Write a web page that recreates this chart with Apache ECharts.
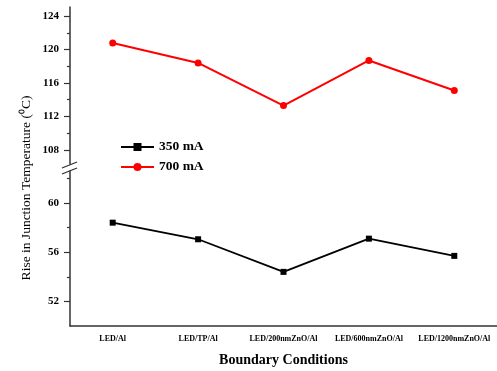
<!DOCTYPE html>
<html>
<head>
<meta charset="utf-8">
<script src="https://cdn.jsdelivr.net/npm/echarts@6/dist/echarts.min.js"></script>
<style>
  html, body { margin: 0; padding: 0; background: #fff; }
  #chart { width: 497px; height: 371px; }
</style>
</head>
<body>
<div id="chart"></div>
<script>
const categories = ['LED/Al', 'LED/TP/Al', 'LED/200nmZnO/Al', 'LED/600nmZnO/Al', 'LED/1200nmZnO/Al']
const temp700 = [120.8, 118.4, 113.3, 118.7, 115.1]
const temp350 = [58.4, 57.05, 54.4, 57.1, 55.7]
const upperLabels = [108, 112, 116, 120, 124]
const upperMinor = [110, 114, 118, 122]
const lowerLabels = [52, 56, 60]
const lowerMinor = [54, 58, 62]

const font = 'Liberation Serif'
const axisColor = '#333'

const chart = echarts.init(document.getElementById('chart'))

const majorAxis = (grid, min, max, labels) => ({
  type: 'value',
  gridIndex: grid,
  position: 'left',
  min: min,
  max: max,
  splitLine: { show: false },
  axisLine: { show: true, lineStyle: { color: axisColor, width: 1.5 } },
  axisTick: { show: true, length: 6, customValues: labels, lineStyle: { color: axisColor, width: 1.2 } },
  axisLabel: {
    customValues: labels,
    margin: 11,
    fontFamily: font,
    fontSize: 11,
    fontWeight: 'bold',
    color: '#000'
  }
})

// second axis on the same side, only for the short minor ticks
const minorAxis = (grid, min, max, ticks) => ({
  type: 'value',
  gridIndex: grid,
  position: 'left',
  offset: 0,
  min: min,
  max: max,
  splitLine: { show: false },
  axisLine: { show: false },
  axisTick: { show: true, length: 3, customValues: ticks, lineStyle: { color: axisColor, width: 1.2 } },
  axisLabel: { show: false }
})

chart.setOption({
  animation: false,
  grid: [
    { left: 70, width: 427, top: 7, height: 157 },
    { left: 70, width: 427, top: 171, height: 155 }
  ],
  legend: {
    orient: 'vertical',
    left: 120,
    top: 140,
    padding: 0,
    itemWidth: 33,
    itemHeight: 10,
    itemGap: 6,
    textStyle: { fontFamily: font, fontSize: 13.5, fontWeight: 'bold', color: '#000', lineHeight: 13 },
    data: ['350 mA', '700 mA']
  },
  xAxis: [
    {
      type: 'category',
      gridIndex: 0,
      data: categories,
      show: false
    },
    {
      type: 'category',
      gridIndex: 1,
      data: categories,
      axisLine: { lineStyle: { color: axisColor, width: 1.5 } },
      axisTick: { alignWithLabel: true, length: 5, lineStyle: { color: axisColor, width: 1.2 } },
      axisLabel: { fontFamily: font, fontSize: 8, fontWeight: 'bold', color: '#000', margin: 9, interval: 0 },
      name: 'Boundary Conditions',
      nameLocation: 'middle',
      nameGap: 27,
      nameTextStyle: { fontFamily: font, fontSize: 14, fontWeight: 'bold', color: '#000' }
    }
  ],
  yAxis: [
    majorAxis(0, 106.3, 125.1, upperLabels),
    majorAxis(1, 50, 62.6, lowerLabels),
    minorAxis(0, 106.3, 125.1, upperMinor),
    minorAxis(1, 50, 62.6, lowerMinor)
  ],
  series: [
    {
      name: '350 mA',
      type: 'line',
      xAxisIndex: 1,
      yAxisIndex: 1,
      data: temp350,
      symbol: 'rect',
      symbolSize: 6,
      color: '#000',
      lineStyle: { color: '#000', width: 1.8 },
      itemStyle: { color: '#000' }
    },
    {
      name: '700 mA',
      type: 'line',
      xAxisIndex: 0,
      yAxisIndex: 0,
      data: temp700,
      symbol: 'circle',
      symbolSize: 7,
      color: '#ff0000',
      lineStyle: { color: '#ff0000', width: 2 },
      itemStyle: { color: '#ff0000' }
    }
  ],
  graphic: [
    {
      type: 'text',
      x: 26,
      y: 188,
      rotation: Math.PI / 2,
      style: {
        text: 'Rise in Junction Temperature (⁰C)',
        fontFamily: font,
        fontSize: 13.5,
        fill: '#000',
        align: 'center',
        verticalAlign: 'middle'
      }
    },
    {
      type: 'line',
      shape: { x1: 62, y1: 168, x2: 77, y2: 162 },
      style: { stroke: axisColor, lineWidth: 1.3 }
    },
    {
      type: 'line',
      shape: { x1: 62, y1: 174, x2: 77, y2: 168 },
      style: { stroke: axisColor, lineWidth: 1.3 }
    }
  ]
})
</script>
</body>
</html>
